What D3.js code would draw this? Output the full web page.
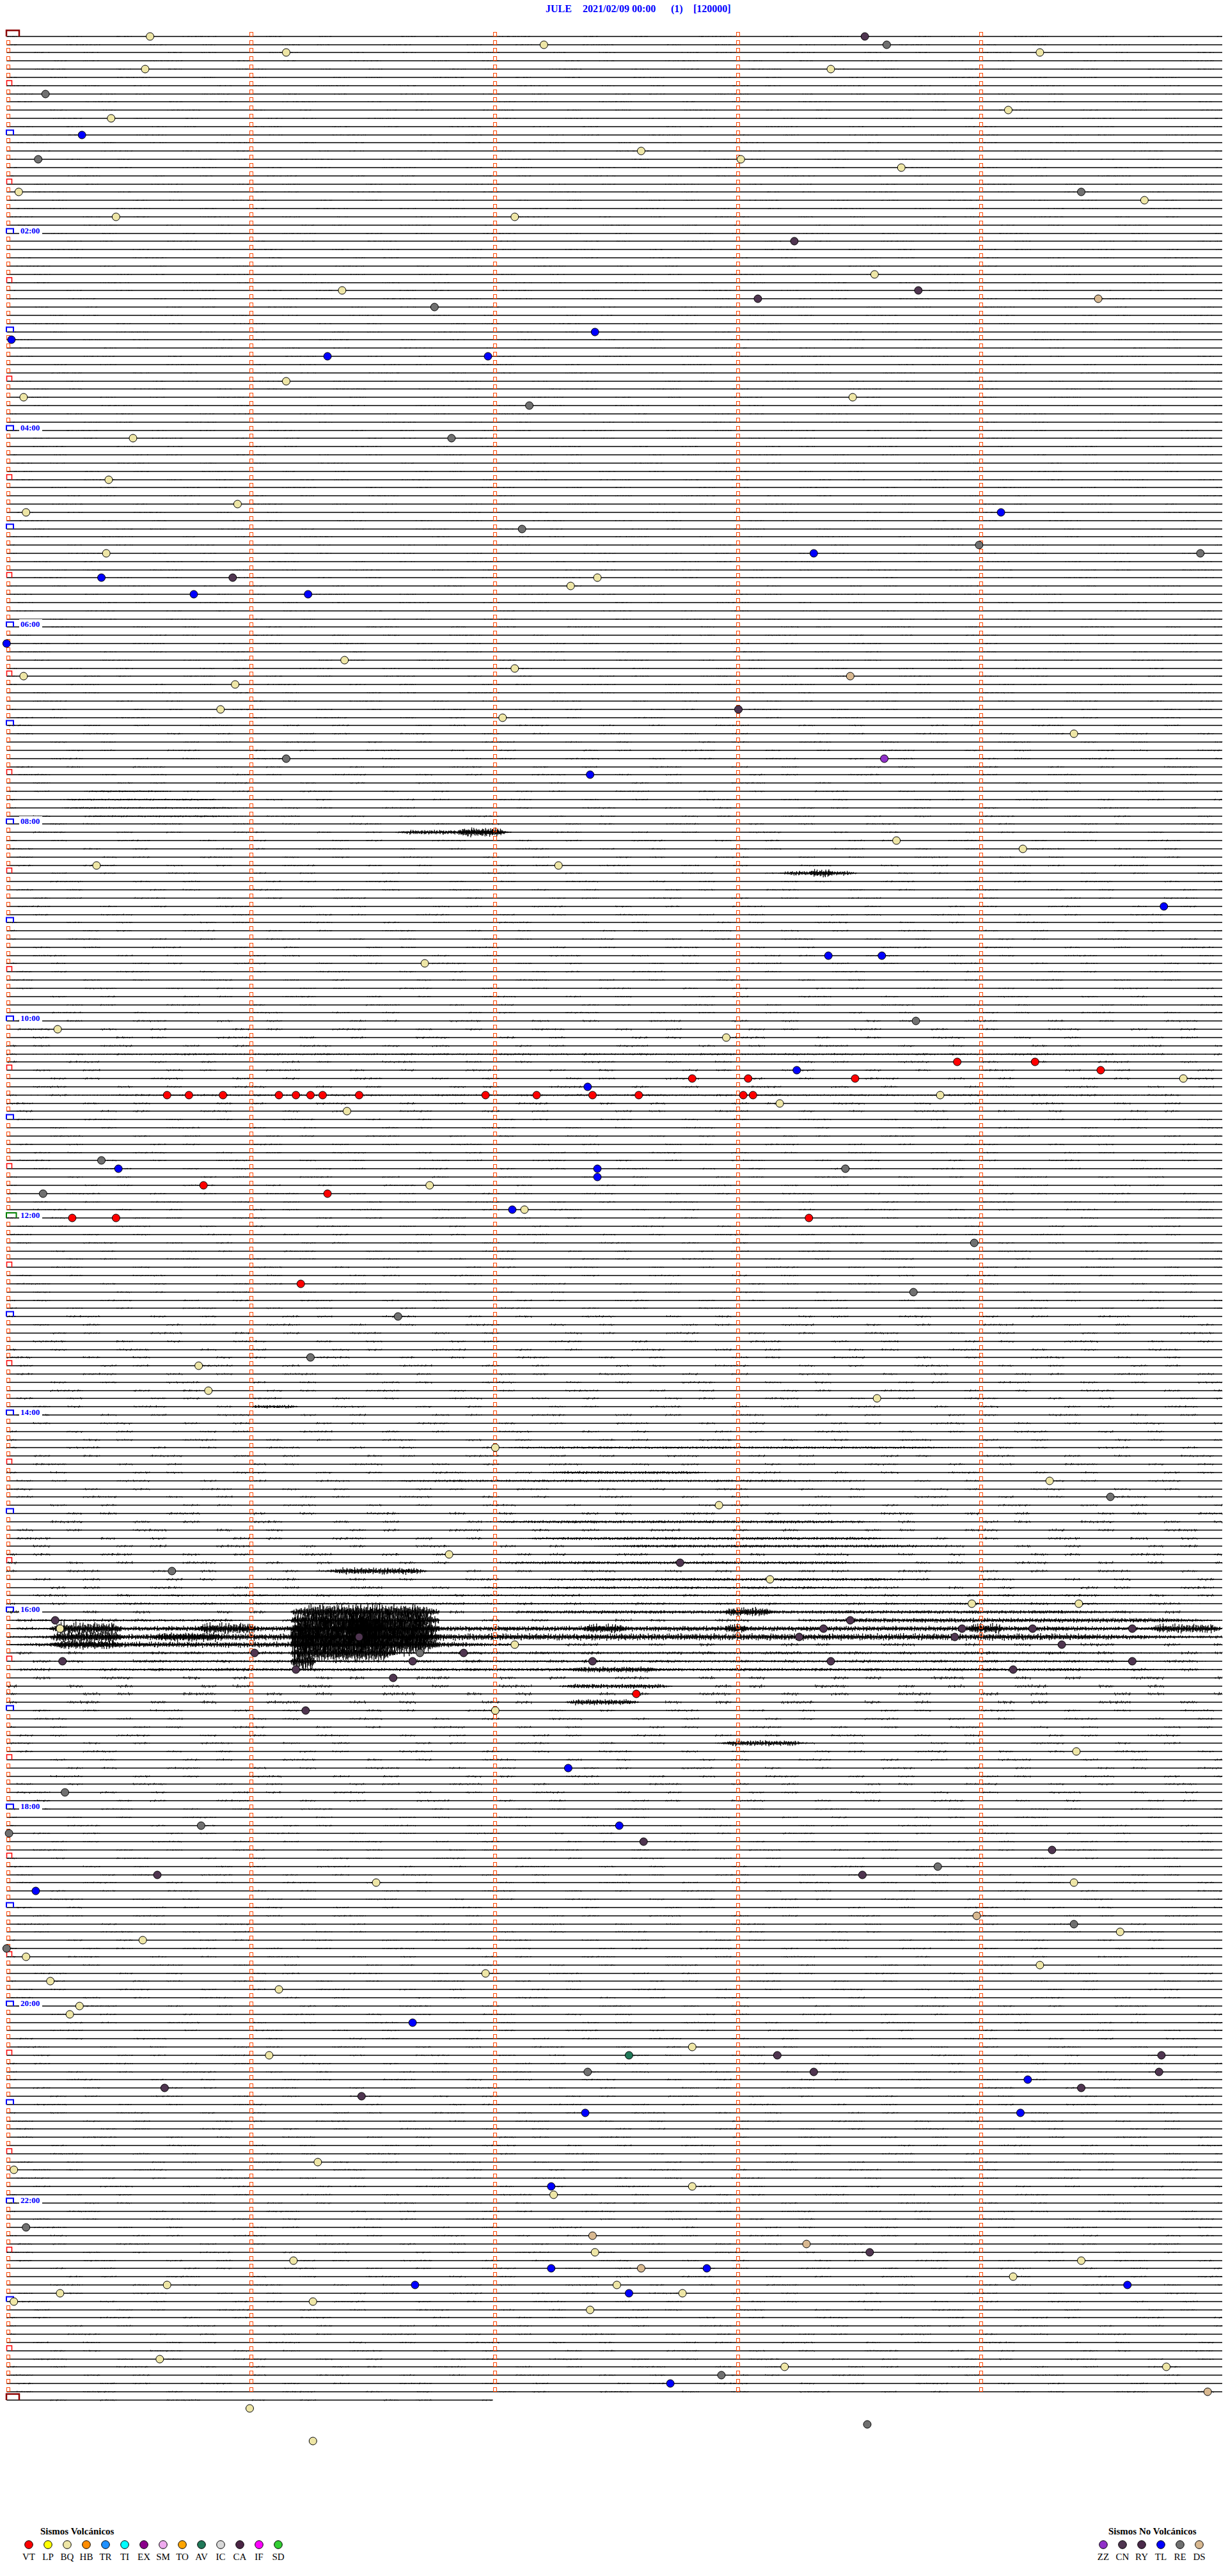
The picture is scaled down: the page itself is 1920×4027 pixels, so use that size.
<!DOCTYPE html>
<html><head><meta charset="utf-8">
<script src="https://cdn.jsdelivr.net/npm/d3@7"></script>
<style>body{margin:0;background:#fff}svg{display:block}</style>
</head><body>
<svg id="chart" width="1920" height="4027"></svg>
<script>
// ---------- DATA ----------
const titleParts = ["JULE", "2021/02/09 00:00", "(1)", "[120000]"];
const hourLabels = ["02:00","04:00","06:00","08:00","10:00","12:00","14:00","16:00","18:00","20:00","22:00"];
const volcanicTypes  = ["VT","LP","BQ","HB","TR","TI","EX","SM","TO","AV","IC","CA","IF","SD"];
const volcanicColors = ["#FF0000","#FFFF00","#EEE6A6","#FF8C00","#1E90FF","#00FFFF","#8B008B","#EEAAEE","#FFA500","#207858","#D8D8D8","#4B2545","#FF00FF","#32CD32"];
const nonVolcanicTypes  = ["ZZ","CN","RY","TL","RE","DS"];
const nonVolcanicColors = ["#9030C8","#4F3550","#4A2A4A","#0000FF","#707070","#D8B890"];

// event times, minutes after 00:00 (each trace = 5 minutes)
const bqTimes = [0.59,7.21,14.25,11.15,20.57,23.39,49.12,50.43,72.61,78.02,83.68,104.68,95.05,110.45,112.09,148.57,156.38,
  211.15,220.07,223.48,245.52,270.42,285.95,290.08,315.41,332.43,337.32,381.39,387.09,390.07,395.94,410.88,417.04,429.39,
  493.66,499.18,505.37,507.27,566.72,605.21,612.96,639.84,648.84,653.18,656.40,701.74,717.13,810.79,825.83,833.58,862.01,
  884.29,897.93,926.82,943.14,958.97,959.41,970.22,982.09,1022.01,1049.40,1126.52,1129.39,1159.58,1160.56,1170.08,1179.25,
  1181.97,1185.18,1191.12,1200.30,1205.26,1227.82,1231.08,1296.28,1300.03,1312.82,1317.25,1352.42,1356.18,1359.42,1369.14,
  1370.66,1372.51,1375.22,1377.78,1380.03,1381.26,1387.40,1415.63,1423.20,1424.77,1446.00,1466.26];
const reTimes = [8.62,35.16,75.13,99.42,166.76,227.15,246.83,302.12,314.00,319.91,441.15,603.74,685.39,693.45,705.15,738.98,
  768.73,781.61,806.25,894.54,935.68,986.70,1070.24,1090.80,1095.01,1118.83,1154.39,1165.00,1242.39,1335.08,1427.94,1458.54];
const tlTimes = [60.31,182.42,185.02,196.32,196.98,294.09,318.32,330.39,340.77,341.24,370.00,452.40,534.76,563.38,563.60,
  633.25,642.39,690.46,692.43,697.43,717.08,1057.31,1092.52,1130.12,1211.67,1249.20,1267.38,1269.17,1312.24,1362.24,1362.88,
  1371.68,1374.61,1377.56,1432.73];
const vtTimes = [628.91,629.23,634.50,637.82,638.05,638.49,645.66,645.75,645.89,646.12,646.19,646.25,646.30,646.45,646.97,
  647.18,647.41,647.60,648.03,648.07,700.81,706.32,720.27,720.45,723.30,761.21,1012.59];
const cnTimes = [3.53,128.24,158.75,163.09,330.93,413.01,932.77,965.20,968.47,973.36,973.93,974.22,974.63,976.45,978.26,978.90,
  984.34,986.02,986.88,990.23,991.67,992.41,993.39,994.63,996.19,999.14,1001.59,1021.23,1102.62,1109.30,1120.62,1123.52,
  1233.17,1234.75,1243.32,1244.74,1250.65,1254.42,1256.46,1353.55];
const dsTimes = [164.49,393.47,1148.99,1342.41,1348.29,1362.61,1439.94];
const avTimes = [1232.56];
const zzTimes = [443.61];

// background noise level (px) per hour
const noiseByHour = [1,1,1,1,1,1,1.2,1.5,1.5,1.5,2,1.5,1.5,2,2,2.5,3,2,1.5,1.5,1.5,1.5,1.5,1.5];
// visible bursts: [trace, start min, end min, amplitude px]
const bursts = [
  [92,0.3,0.7,1.5],[93,0.2,0.9,1.5],[94,0.2,1.0,1.5],[95,0.3,1.0,1.5],
  [97,1.6,2.08,4],[97,1.85,2.05,8],[102,3.18,3.5,4],[102,3.3,3.4,7],
  [124,0,5,1.5],[129,0,5,1.5],
  [167,1.0,1.2,3],[172,2.0,4.0,2],[175,2.2,2.9,2.5],[176,1.5,3.5,2],[181,1.95,3.6,2.5],[183,2.1,3.7,2.5],[184,2.4,3.9,2.5],
  [186,2.0,3.6,2.5],[187,1.32,1.73,6],[188,2.2,3.8,2.5],[189,1.9,3.6,2],[190,0,5,1.5],[191,0,5,1.5],
  [192,1.95,4.75,3],[192,2.95,3.15,8],
  [193,3.25,5,4],[193,0,1.0,2],
  [194,0,5,4.5],[194,0.18,0.48,11],[194,0.78,1.04,10],[194,2.37,2.55,8],[194,2.95,3.05,8],[194,3.95,4.1,9],[194,4.7,5,8],
  [195,0,5,6],[195,0.18,0.48,11],[195,0.6,0.9,8],
  [196,0,2.1,5],[196,0.18,0.48,8],
  [192,1.17,1.78,14],[193,1.17,1.78,20],[194,1.17,1.78,22],[195,1.17,1.78,24],[196,1.17,1.78,20],[197,1.17,1.6,16],[198,1.17,1.27,16],
  [195,1.17,1.25,48],[194,1.4,1.55,40],
  [197,0,5,2],[198,0,5,2],[199,0,5,2.5],[199,2.3,2.7,5],
  [201,2.27,2.74,4],[203,2.3,2.6,5],[208,2.94,3.28,5]
];

// ---------- STYLE HELPERS (texture shapes only) ----------
const TEX = [0.9,0.3,0.6,0,0.4,1,0.2,0.7,0,0.5,0.8,0.1,0.6,0.3,0,0.9,0.4,0.7,0.2,1,0,0.5,0.3,0.8,0.6,0,0.4,0.9,0.2,0.7,0.3,0,0.6,1,0.5,0.1,0.8];
const TEX2 = [1,0.6,0.3,0.8,0.5,0.2,0.9,0.4,0.7,0.1,0.6,1,0.3,0.5,0.8,0.2,0.7,0.4,0.9,0.6,0.3,1,0.5,0.2,0.8,0.4,0.7,0.1,0.9];
const GATE = [1,0,0,0,1,0,0,1,0,0,0,1,1,0,0,0,1,0,0,1,0,0,0,0,1,0,1,0,0,0,1];

const svg = d3.select("#chart");
svg.append("rect").attr("width",1920).attr("height",4027).attr("fill","#fff");

const nTraces = 288;               // last trace index (24:00)
const y = d3.scaleLinear().domain([0, nTraces]).range([56.7, 56.7 + nTraces*12.83]);
const x = d3.scaleLinear().domain([0, 5]).range([10.3, 1911]);
const serif = "'Liberation Serif','DejaVu Serif',serif";
const yr = i => Math.round(y(i));

// title
const titleX = [853, 911, 1049, 1084];
svg.selectAll("text.title").data(titleParts).join("text").attr("class","title")
  .attr("x",(d,i)=>titleX[i]).attr("y",19).attr("fill","#0000FF")
  .attr("font-family",serif).attr("font-weight","bold").attr("font-size",16).text(d=>d);

// traces
const traceIdx = d3.range(0, nTraces+1);
svg.append("g").selectAll("line").data(traceIdx).join("line")
  .attr("x1", x(0)).attr("x2", d => d === nTraces ? x(2) : x(5))
  .attr("y1", d => yr(d)).attr("y2", d => yr(d))
  .attr("stroke","#000").attr("stroke-width",1.7);

function noisePath(line, s, e, amp, step, gated, taper) {
  const yy = yr(line), x1 = x(s), x2 = x(e);
  const ph = (line*13)%37, gph = (line*7)%31;
  const fade = Math.max(4, (x2-x1)*0.18);
  let p = "";
  let i = 0;
  for (let xx = x1; xx <= x2; xx += step, i++) {
    if (gated && !GATE[(Math.floor(xx/26)+gph)%31]) continue;
    let a = amp;
    if (taper) a *= Math.min(1, 0.25 + (xx-x1)/fade, 0.25 + (x2-xx)/fade);
    const v = 0.35 + 0.65*TEX2[(i*3+ph)%29];
    const up = a*TEX[(i+ph)%37]*v, dn = a*TEX[(i+ph+11)%37]*v;
    if (up + dn < 0.7) continue;
    p += "M" + xx.toFixed(1) + "," + (yy-up).toFixed(1) + "V" + (yy+dn).toFixed(1);
  }
  return p;
}
// background noise
const gNoise = svg.append("g").attr("stroke","#000").attr("fill","none");
gNoise.selectAll("path.bg").data(d3.range(0, nTraces)).join("path").attr("class","bg")
  .attr("stroke-width",1)
  .attr("d", d => noisePath(d, 0, 5, noiseByHour[Math.floor(d/12)], 1.5, true, false));
gNoise.append("path").attr("stroke-width",1).attr("d", noisePath(nTraces, 0, 2, 1.5, 1.5, true, false));
// bursts
gNoise.selectAll("path.burst").data(bursts).join("path").attr("class","burst")
  .attr("stroke-width",1.3)
  .attr("d", d => noisePath(d[0], d[1], d[2], d[3], 0.8, false, true));

// vertical minute markers (small orange squares)
const gMark = svg.append("g").attr("fill","none").attr("stroke","#FF4500").attr("stroke-width",1);
const markData = [];
for (let i = 0; i < nTraces; i++) for (let k = 1; k <= 4; k++) markData.push([i,k]);
gMark.selectAll("rect").data(markData).join("rect")
  .attr("x", d => Math.round(x(d[1])) + 0.5).attr("y", d => yr(d[0]) - 6.5).attr("width",5).attr("height",6);
// left markers
const plainLeft = traceIdx.filter(i => i > 0 && i < nTraces && i % 6 !== 0);
gMark.selectAll("rect.left").data(plainLeft).join("rect").attr("class","left")
  .attr("x", 10.5).attr("y", d => yr(d) - 6.5).attr("width",5).attr("height",6);

// bracket helper (open-bottom box)
function bracket(g, x0, w, yy, h, color, sw) {
  g.append("path").attr("d", `M${x0},${yy}V${yy-h}H${x0+w}V${yy}`)
    .attr("fill","none").attr("stroke",color).attr("stroke-width",sw);
}
const gBr = svg.append("g");
bracket(gBr, 10, 20, yr(0), 9.5, "#8B0000", 2.5);
bracket(gBr, 10, 20, yr(nTraces), 9.5, "#8B0000", 2.5);
traceIdx.filter(i => i > 0 && i < nTraces && i % 12 === 6).forEach(i => bracket(gBr, 10.5, 8, yr(i), 8, "#FF0000", 1.5));
traceIdx.filter(i => i > 0 && i < nTraces && i % 12 === 0).forEach(i => {
  if (i === 144) bracket(gBr, 10, 15.5, yr(i), 8, "#008000", 2);
  else bracket(gBr, 10, 11, yr(i), 7.5, "#0000FF", 2);
});
// hour labels
const gLab = svg.append("g");
hourLabels.forEach((lab, j) => {
  const i = (j+1)*24;
  gLab.append("rect").attr("x",30).attr("y",yr(i)-12).attr("width",36).attr("height",14).attr("fill","#fff");
  gLab.append("text").attr("x",32).attr("y",yr(i)).attr("fill","#0000FF").attr("font-family",serif)
    .attr("font-weight","bold").attr("font-size",13).text(lab);
});

// events
const allTypes = volcanicTypes.concat(nonVolcanicTypes);
const allColors = volcanicColors.concat(nonVolcanicColors);
const color = d3.scaleOrdinal().domain(allTypes).range(allColors);
const eventSets = [["BQ",bqTimes],["RE",reTimes],["TL",tlTimes],["VT",vtTimes],["CN",cnTimes],["DS",dsTimes],["AV",avTimes],["ZZ",zzTimes]];
const events = [];
eventSets.forEach(([t, arr]) => arr.forEach(m => events.push({type:t, m})));
svg.append("g").selectAll("circle").data(events).join("circle")
  .attr("cx", d => { const L = Math.floor(d.m/5 + 1e-9); return x(d.m - 5*L); })
  .attr("cy", d => yr(Math.floor(d.m/5 + 1e-9)))
  .attr("r", 6).attr("fill", d => color(d.type)).attr("stroke","#000").attr("stroke-width",1);

// legends
function legend(title, titleX, types, colors, x0) {
  const g = svg.append("g");
  g.append("text").attr("x",titleX).attr("y",3962).attr("font-family",serif).attr("font-weight","bold")
    .attr("font-size",15).attr("fill","#000").text(title);
  const lx = d3.scalePoint().domain(types).range([x0, x0 + 30*(types.length-1)]);
  g.selectAll("circle").data(types).join("circle").attr("cx", d => lx(d)).attr("cy",3978).attr("r",6.3)
    .attr("fill",(d,i)=>colors[i]).attr("stroke","#000").attr("stroke-width",1);
  g.selectAll("text.lab").data(types).join("text").attr("class","lab").attr("x", d => lx(d)).attr("y",4002)
    .attr("text-anchor","middle").attr("font-family",serif).attr("font-size",15).attr("fill","#000").text(d=>d);
}
legend("Sismos Volcánicos", 63, volcanicTypes, volcanicColors, 45);
legend("Sismos No Volcánicos", 1733, nonVolcanicTypes, nonVolcanicColors, 1725);
</script>
</body></html>
